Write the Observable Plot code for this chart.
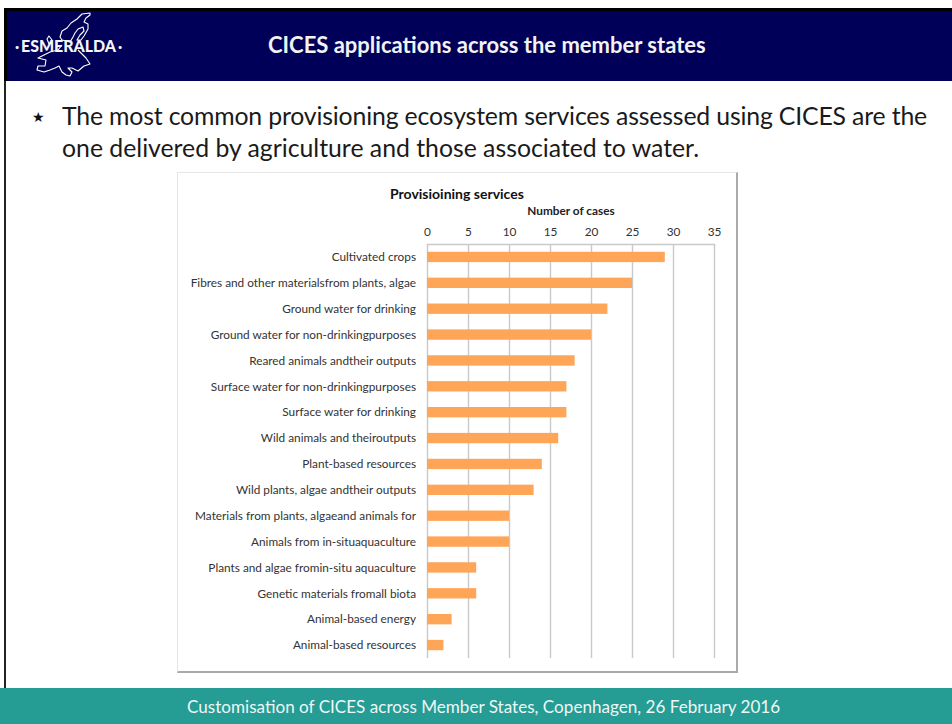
<!DOCTYPE html>
<html>
<head>
<meta charset="utf-8">
<script src="https://cdn.jsdelivr.net/npm/d3@7"></script>
<script src="https://cdn.jsdelivr.net/npm/@observablehq/plot@0.6"></script>
<style>
  html, body { margin: 0; padding: 0; background: #fff; }
  body { width: 952px; height: 724px; position: relative; overflow: hidden; font-family: Lato, "Open Sans", sans-serif; }
  .abs { position: absolute; white-space: nowrap; }
  #band { left: 4px; top: 8px; width: 948px; height: 73px; background: #000058; border-top: 3px solid #000; border-left: 3px solid #000; box-sizing: border-box; }
  #edge { left: 4px; top: 81px; width: 2px; height: 607px; background: #222; }
  #heading { left: 268px; top: 32px; color: #f2f2f2; font-weight: 700; font-size: 22px; line-height: 26px; }
  #logo { left: 0; top: 0; }
  #star { left: 32px; top: 109px; font: 14px "DejaVu Sans"; color: #111; }
  #lead-1 { left: 62px; top: 100px; font-size: 24.8px; line-height: 32px; color: #1a1a1a; }
  #lead-2 { left: 62px; top: 132px; font-size: 24.8px; line-height: 32px; color: #1a1a1a; }
  #panel { left: 177px; top: 172px; width: 561px; height: 501px; box-sizing: border-box; background: #fff;
           border-top: 1px solid #e6e6e6; border-left: 1px solid #e6e6e6; border-right: 2px solid #aaa; border-bottom: 2px solid #aaa; }
  #chart { left: 177px; top: 172px; }
  #chart-title { left: 390px; top: 186px; font-weight: 700; font-size: 14px; line-height: 16px; color: #111; }
  #footer { left: 0; top: 688px; width: 952px; height: 36px; background: #259c94; }
  #footer-text { left: 187px; top: 696px; color: #eef7f6; font-size: 17.1px; line-height: 22px; }
</style>
</head>
<body>
<div class="abs" id="band"></div>
<div class="abs" id="edge"></div>
<svg class="abs" id="logo" width="130" height="81" viewBox="0 0 130 81">
  <!-- Outline of Europe behind the project name -->
  <g fill="none" stroke="#fff" stroke-width="1.1" stroke-linejoin="round">
    <path d="M90 13 L82 14 L77 19 L71 23 L67 28 L62 31 L60 37 L62 40 L70 42 L73 37 L75 33 L78 29 L83 27 L84 31 L80 35 L77 40 L81 40 L84 36 L88 29 L88 24 L84 22 L86 18 L90 15 Z"/>
    <path d="M49 36 L47 39 L49 44 L52 40 Z"/>
    <path d="M62 45 L58 50 L50 52 L42 56 L38 58 L46 60 L45 66 L38 66 L37 70 L44 72 L50 70 L55 68 L59 66 L62 72 L66 75 L70 76 L72 72 L68 68 L72 68 L78 71 L84 66 L90 64 L86 58 L82 54 L78 50"/>
  </g>
  <text x="21" y="52" font-family="Lato, sans-serif" font-size="16.5" font-weight="900" fill="#f5f5f5" textLength="95" lengthAdjust="spacingAndGlyphs">ESMERALDA</text>
  <text x="15" y="52" font-family="Lato, sans-serif" font-size="15" font-weight="900" fill="#f5f5f5">·</text>
  <text x="118" y="52" font-family="Lato, sans-serif" font-size="15" font-weight="900" fill="#f5f5f5">·</text>
</svg>
<div class="abs" id="heading">CICES applications across the member states</div>
<div class="abs" id="star">★</div>
<div class="abs" id="lead-1">The most common provisioning ecosystem services assessed using CICES are the</div>
<div class="abs" id="lead-2">one delivered by agriculture and those associated to water.</div>
<div class="abs" id="panel"></div>
<div class="abs" id="chart"></div>
<div class="abs" id="chart-title">Provisioining services</div>
<div class="abs" id="footer"></div>
<div class="abs" id="footer-text">Customisation of CICES across Member States, Copenhagen, 26 February 2016</div>

<script>
// Number of reported cases per provisioning service, most frequent first.
const services = [
  "Cultivated crops",
  "Fibres and other materialsfrom plants, algae",
  "Ground water for drinking",
  "Ground water for non-drinkingpurposes",
  "Reared animals andtheir outputs",
  "Surface water for non-drinkingpurposes",
  "Surface water for drinking",
  "Wild animals and theiroutputs",
  "Plant-based resources",
  "Wild plants, algae andtheir outputs",
  "Materials from plants, algaeand animals for",
  "Animals from in-situaquaculture",
  "Plants and algae fromin-situ aquaculture",
  "Genetic materials fromall biota",
  "Animal-based energy",
  "Animal-based resources"
];
const cases = [29, 25, 22, 20, 18, 17, 17, 16, 14, 13, 10, 10, 6, 6, 3, 2];
const xTicks = [0, 5, 10, 15, 20, 25, 30, 35];

const rows = services.map((service, i) => ({service, count: cases[i]}));

const chart = Plot.plot({
  width: 561,
  height: 501,
  marginLeft: 250,
  marginRight: 24,
  marginTop: 72,
  marginBottom: 15,
  style: {background: "transparent", fontFamily: "Lato, sans-serif", fontSize: "11.8px", color: "#333"},
  x: {domain: [0, 35], axis: "top", ticks: xTicks, tickSize: 0, tickPadding: 9,
      label: "Number of cases", labelAnchor: "center", labelArrow: "none", labelOffset: 38},
  y: {domain: services, label: null, tickSize: 0, tickPadding: 11.5, paddingInner: 0.6, paddingOuter: 0.3, round: false},
  marks: [
    Plot.ruleX(xTicks, {stroke: "#c9c9c9", strokeWidth: 1.4}),
    Plot.frame({anchor: "top", stroke: "#c9c9c9", strokeWidth: 1.4}),
    Plot.barX(rows, {x: "count", y: "service", fill: "#ffa557"})
  ]
});
document.getElementById("chart").appendChild(chart);

// The axis title is set in bold.
for (const t of chart.querySelectorAll("text")) {
  if (t.textContent === "Number of cases") {
    t.setAttribute("font-weight", "700");
    t.setAttribute("fill", "#222");
  }
}

// Tighten or loosen a line of text so it fills the column width it is given.
function fitLine(id, width) {
  const el = document.getElementById(id);
  const chars = el.textContent.length;
  el.style.letterSpacing = ((width - el.getBoundingClientRect().width) / chars) + "px";
}
fitLine("lead-1", 865);
fitLine("lead-2", 637);
</script>
</body>
</html>
